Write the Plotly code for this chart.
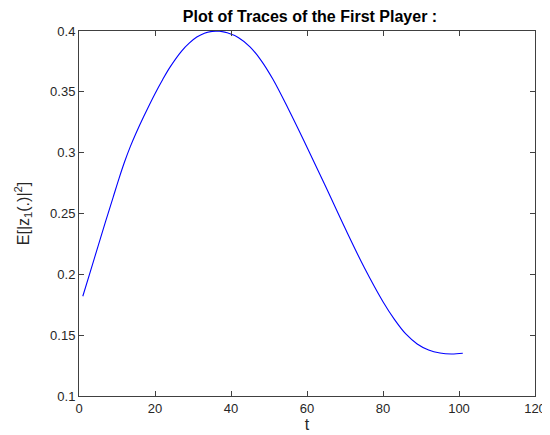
import plotly.graph_objects as go

t_vals = [1, 3, 5, 7, 9, 10.5, 12, 13.5, 15, 17, 20, 22, 24, 27, 29, 31, 33, 35, 36, 37, 39, 42, 45,
          48, 51, 55, 60, 65, 70, 75, 80, 83, 86, 89, 92, 95, 98, 101]
e_vals = [0.182, 0.2025, 0.223, 0.2435, 0.2635, 0.2785, 0.2925, 0.305, 0.316, 0.3295, 0.3485, 0.360,
          0.3705, 0.3835, 0.390, 0.395, 0.3982, 0.3997, 0.3999, 0.3998, 0.3985, 0.3945, 0.387,
          0.3755, 0.3605, 0.3365, 0.3045, 0.2715, 0.238, 0.206, 0.1775, 0.163, 0.151, 0.1428,
          0.1378, 0.1353, 0.1345, 0.1351]

x_ticks = [0, 20, 40, 60, 80, 100, 120]
y_ticks = [0.1, 0.15, 0.2, 0.25, 0.3, 0.35, 0.4]
y_tick_text = ["0.1", "0.15", "0.2", "0.25", "0.3", "0.35", "0.4"]

FONT = "Liberation Sans, Arial, sans-serif"

fig = go.Figure()
fig.add_trace(go.Scatter(x=t_vals, y=e_vals, mode="lines",
                         line=dict(color="rgb(0,0,255)", width=1.1, shape="spline", smoothing=1.0),
                         showlegend=False))

axis_common = dict(showgrid=False, zeroline=False, showline=True, linecolor="#404040", linewidth=1,
                   mirror="ticks", ticks="inside", ticklen=5, tickcolor="#404040",
                   tickfont=dict(family=FONT, size=13, color="#262626"))

fig.update_layout(
    width=550, height=435,
    margin=dict(l=71, r=17, t=23, b=47),
    paper_bgcolor="white", plot_bgcolor="white",
    title=dict(text="<b>Plot of Traces of the First Player :</b>", x=(71 + 533) / 2 / 550, xanchor="center",
               y=1 - 3 / 435, yanchor="top",
               font=dict(family=FONT, size=16, color="black")),
    xaxis=dict(range=[0, 120], tickvals=x_ticks, title=dict(text="t", standoff=0,
               font=dict(family=FONT, size=16, color="#262626")),
               **axis_common),
    yaxis=dict(range=[0.1, 0.4], tickvals=y_ticks, ticktext=y_tick_text,
               title=dict(text="E[|z<sub>1</sub>(.)|<sup>2</sup>]", standoff=16,
               font=dict(family=FONT, size=16, color="#262626")),
               **axis_common),
)

fig.write_html("out.html")
